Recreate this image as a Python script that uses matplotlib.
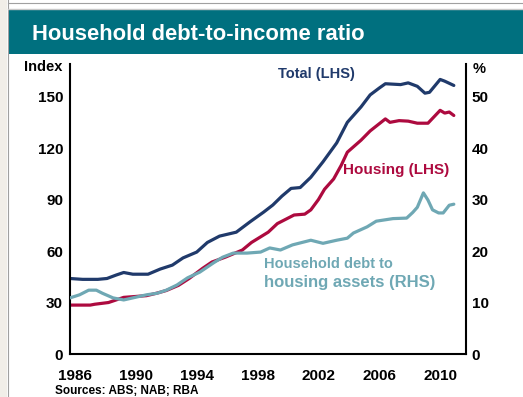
import matplotlib
matplotlib.use("Agg")
import matplotlib.pyplot as plt
from matplotlib.patches import Rectangle
from matplotlib.lines import Line2D

plt.rcParams['font.family'] = ['Liberation Sans', 'DejaVu Sans']
plt.rcParams['font.weight'] = 'bold'

# Data (year, value)
total_years = [1985.67, 1986.5, 1987.5, 1988.1, 1988.7, 1989.2, 1989.8, 1990.8, 1991.6,
               1992.4, 1993.1, 1994.0, 1994.7, 1995.5, 1996.6, 1997.5, 1998.4, 1999.0,
               1999.6, 2000.2, 2000.8, 2001.5, 2002.3, 2003.2, 2003.9, 2004.8, 2005.4,
               2006.0, 2006.4, 2007.4, 2007.9, 2008.5, 2009.0, 2009.3, 2010.0, 2010.3, 2010.9]
total_vals = [44, 43.5, 43.5, 44, 46, 47.5, 46.5, 46.5, 49.5,
              51.8, 56, 59.4, 65, 68.7, 71, 77, 82.7, 86.8,
              92, 96.5, 97, 103, 112, 123, 135, 144, 151,
              155, 157.5, 157, 158, 156, 152, 152.5, 160, 159, 156.5]

housing_years = [1985.67, 1987.0, 1987.3, 1988.2, 1989.2, 1990.7, 1991.4, 1992.0, 1992.8,
                 1993.5, 1994.4, 1995.0, 1995.9, 1997.0, 1997.6, 1998.7, 1999.3, 2000.4,
                 2001.1, 2001.5, 2002.0, 2002.4, 2003.0, 2003.5, 2003.9, 2004.8, 2005.4,
                 2006.4, 2006.7, 2007.3, 2007.9, 2008.5, 2009.2, 2010.0, 2010.3, 2010.6, 2010.9]
housing_vals = [28.5, 28.5, 29, 30, 33, 34, 35.5, 37, 40,
                44, 50, 53.6, 56.5, 60.6, 65, 71, 76, 81,
                81.5, 84, 90, 96, 102, 110, 117.6, 124.6, 130,
                137, 135, 136, 135.7, 134.5, 134.5, 142, 140.4, 141, 139]

assets_years = [1985.67, 1986.3, 1986.9, 1987.4, 1987.8, 1988.5, 1989.2, 1989.8, 1990.7,
                1991.4, 1992.0, 1992.7, 1993.4, 1994.2, 1995.1, 1995.7, 1996.4, 1997.3,
                1998.2, 1998.8, 1999.5, 2000.3, 2001.5, 2002.3, 2003.2, 2003.9, 2004.3,
                2005.2, 2005.8, 2006.9, 2007.8, 2008.2, 2008.5, 2008.9, 2009.2, 2009.5,
                2009.9, 2010.2, 2010.6, 2010.9]
assets_vals = [10.9, 11.5, 12.4, 12.4, 11.8, 10.9, 10.5, 10.9, 11.5,
               11.8, 12.4, 13.4, 14.8, 15.9, 17.7, 18.8, 19.6, 19.6,
               19.8, 20.6, 20.2, 21.2, 22.1, 21.5, 22.1, 22.5, 23.5,
               24.7, 25.8, 26.3, 26.4, 27.5, 28.5, 31.3, 29.9, 28,
               27.4, 27.4, 28.9, 29.1]

x_ticks = [1986, 1990, 1994, 1998, 2002, 2006, 2010]
left_ticks = [0, 30, 60, 90, 120, 150]
right_ticks = [0, 10, 20, 30, 40, 50]

navy = '#203a6b'
crimson = '#ad0a3f'
teal_line = '#6fa8b4'
band = '#00707f'

W, H = 523, 397
fig = plt.figure(figsize=(W / 100, H / 100), dpi=100)


def fx(px):
    return px / W


def fy(py):
    return 1 - py / H


# page decoration
fig.patches.append(Rectangle((0, 0), fx(7), 1, transform=fig.transFigure,
                             facecolor='#f1eee8', edgecolor='none'))
fig.lines.append(Line2D([fx(7.5), fx(7.5)], [0, 1], transform=fig.transFigure,
                        color='#a0a0a0', lw=0.8))
fig.lines.append(Line2D([fx(7.5), 1], [fy(3), fy(3)], transform=fig.transFigure,
                        color='#a0a0a0', lw=0.8))
fig.patches.append(Rectangle((fx(8), fy(54)), 1, fy(9) - fy(54), transform=fig.transFigure,
                             facecolor=band, edgecolor='none'))
fig.lines.append(Line2D([fx(8), 1], [fy(9), fy(9)], transform=fig.transFigure,
                        color='#c8c8c8', lw=1.0))
fig.text(fx(32), fy(35), 'Household debt-to-income ratio', color='white',
         fontsize=15.8, fontweight='bold', va='center', ha='left')

ax = fig.add_axes([fx(70), fy(354), fx(466) - fx(70), fy(64) - fy(354)])
ax2 = ax.twinx()

ax.plot(total_years, total_vals, color=navy, lw=2.3, solid_capstyle='round')
ax.plot(housing_years, housing_vals, color=crimson, lw=2.3, solid_capstyle='round')
ax2.plot(assets_years, assets_vals, color=teal_line, lw=2.3, solid_capstyle='round')

ax.set_xlim(1985.67, 2011.7)
ax.set_ylim(0, 169)
ax2.set_ylim(0, 169 / 3)

ax.set_xticks(x_ticks)
ax.set_yticks(left_ticks)
ax2.set_yticks(right_ticks)

for a in (ax, ax2):
    a.spines['top'].set_visible(False)
    for s in a.spines.values():
        s.set_linewidth(1.5)
ax.spines['right'].set_visible(False)
ax2.spines['left'].set_visible(False)
ax2.spines['bottom'].set_visible(False)

ax.tick_params(axis='x', length=0, pad=11, labelsize=11)
ax.tick_params(axis='y', length=0, pad=5, labelsize=11)
ax2.tick_params(axis='y', length=0, pad=4, labelsize=11)
for lab in ax.get_xticklabels() + ax.get_yticklabels() + ax2.get_yticklabels():
    lab.set_fontweight('bold')

fig.text(fx(62), fy(67), 'Index', fontsize=10.5, fontweight='bold', ha='right', va='center')
fig.text(fx(473), fy(69), '%', fontsize=10.5, fontweight='bold', ha='left', va='center')

fig.text(fx(278), fy(74), 'Total (LHS)', color=navy, fontsize=10.5,
         fontweight='bold', ha='left', va='center')
fig.text(fx(343), fy(170), 'Housing (LHS)', color=crimson, fontsize=11,
         fontweight='bold', ha='left', va='center')
fig.text(fx(264), fy(264), 'Household debt to', color=teal_line, fontsize=10.5,
         fontweight='bold', ha='left', va='center')
fig.text(fx(264), fy(283), 'housing assets (RHS)', color=teal_line, fontsize=12,
         fontweight='bold', ha='left', va='center')

fig.text(fx(55), fy(385), 'Sources: ABS; NAB; RBA', fontsize=8.5,
         fontweight='bold', ha='left', va='top')

fig.savefig('out.png', dpi=100)
